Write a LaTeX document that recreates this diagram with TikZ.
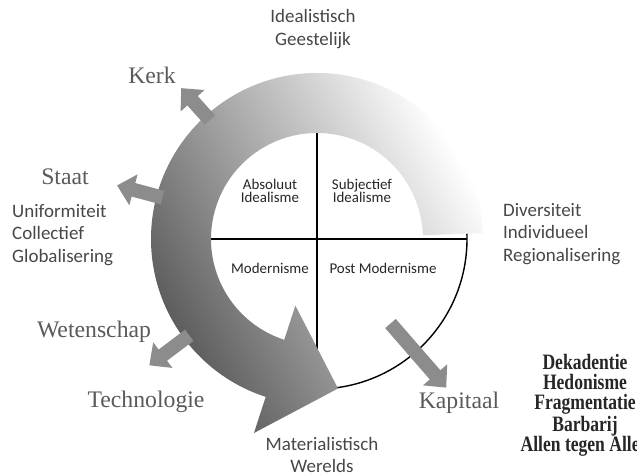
\documentclass[tikz,border=0pt]{standalone}
\usepackage{fontspec}
\setmainfont{Liberation Serif}
\setsansfont{Carlito}
\newfontfamily\smalserif[FakeStretch=0.8]{Liberation Serif}
\usetikzlibrary{arrows.meta}
\definecolor{labelgrijs}{HTML}{5A5A5A}
\definecolor{pijlgrijs}{HTML}{8C8C8C}
\tikzstyle{serieflabel}=[text=labelgrijs,font=\fontsize{13.5}{16}\selectfont]
\tikzstyle{sanslabel}=[text=black!72,font=\sffamily\fontsize{10.8}{12.6}\selectfont,align=left]
\tikzstyle{kwadrant}=[text=black!85,font=\sffamily\fontsize{8.5}{7.6}\selectfont,align=center]
\tikzstyle{uitpijl}=[line width=0.28cm,pijlgrijs,-{Triangle[length=0.34cm,width=0.62cm]}]

\begin{document}
\begin{tikzpicture}[x=0.02cm,y=0.02cm]
		\useasboundingbox (0,0) rectangle (637,475);

		\begin{scope}[shift={(317,236)}]
		% schijf met de vier kwadranten
		\draw[line width=0.8pt,fill=white] (0,0) circle (150);
		\draw[line width=0.9pt] (180:150) -- (0:150);
		\draw[line width=0.9pt] (90:150) -- (270:150);
		\node[kwadrant] (absoluut) at (-47,48) {Absoluut\\Idealisme};
		\node[kwadrant] (subjectief) at (45,48) {Subjectief\\Idealisme};
		\node[kwadrant] (modern) at (-47,-29) {Modernisme};
		\node[kwadrant] (postmodern) at (66,-29) {Post Modernisme};

		% de grote pijl
		\shade[top color=white,bottom color=black!66,shading angle=-60]
			(2:166) arc[start angle=2,end angle=252,radius=166] -- (252:204) -- (278:151)
			-- (252:70) -- (252:106) arc[start angle=252,end angle=2,radius=106] -- cycle;

		% pijlen naar buiten
		\foreach \a / \r / \n in {132/203/kerk,165/207/staat,217/210/wet} {
			\coordinate (\n S) at (\a:160);
			\coordinate (\n E) at (\a:\r);
			\draw[uitpijl] (\n S) -- (\n E);
		}
		\coordinate (kapS) at (311:112);
		\coordinate (kapE) at (311:197);
		\draw[uitpijl] (kapS) -- (kapE);
		\end{scope}

		\node[sanslabel,align=center] (ideaal) at (313,446) {Idealistisch\\Geestelijk};
		\node[sanslabel,align=center] (materie) at (322,20) {Materialistisch\\Werelds};
		\node[sanslabel,anchor=west] (uniform) at (6,240) {Uniformiteit\\Collectief\\Globalisering};
		\node[sanslabel,anchor=west] (divers) at (497,241) {Diversiteit\\Individueel\\Regionalisering};

		\node[serieflabel] (kerk) at (152,400) {Kerk};
		\node[serieflabel] (staat) at (65,298) {Staat};
		\node[serieflabel] (wetenschap) at (94,143) {Wetenschap};
		\node[serieflabel] (technologie) at (146,73) {Technologie};
		\node[serieflabel] (kapitaal) at (459,72) {Kapitaal};

		\node[text=black!85,font=\smalserif\bfseries\fontsize{12.5}{11.4}\selectfont,align=center] (verval) at (585,70)
			{Dekadentie\\Hedonisme\\Fragmentatie\\Barbarij\\Allen tegen Allen};
	\end{tikzpicture}
\end{document}
